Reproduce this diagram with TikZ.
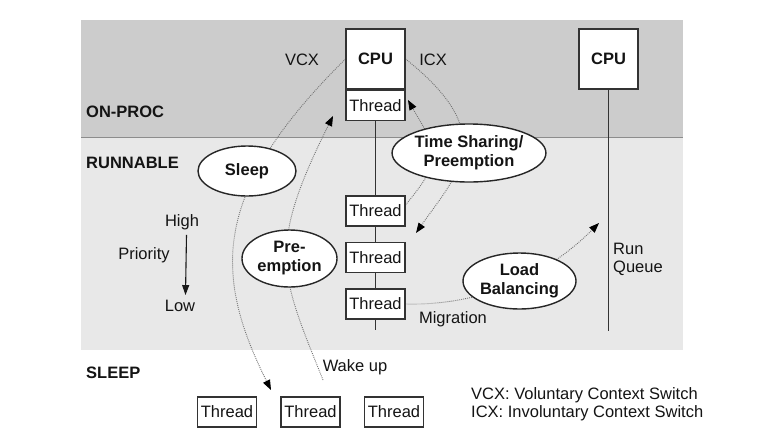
\documentclass[tikz,border=0pt]{standalone}
\usepackage{fontspec}
\setmainfont{Liberation Sans}
\usetikzlibrary{shapes.geometric,arrows.meta,calc}
\pgfdeclarelayer{bands}
\pgfdeclarelayer{links}
\pgfsetlayers{bands,links,main}

\begin{document}
\begin{tikzpicture}[x=1pt,y=-1pt,
  font=\fontsize{16.5}{18.5}\selectfont,
  every node/.style={text=black!92,inner sep=2pt},
  basebox/.style={draw=black!80,line width=1.1pt,fill=white,minimum width=59pt,inner sep=0pt},
  threadbox/.style={basebox,minimum height=30pt},
  cpubox/.style={basebox,minimum height=60pt,font=\fontsize{16.5}{18.5}\selectfont\bfseries},
  bubble/.style={ellipse,draw=black!85,line width=1.4pt,fill=white,inner sep=0pt,align=center,
    font=\fontsize{16.5}{19}\selectfont\bfseries},
  flowline/.style={draw=black!55,line width=0.9pt,dash pattern=on 0.9pt off 1.1pt},
  flowtip/.style={-{Triangle[length=10pt,width=7.5pt,color=black]}},
  rq/.style={draw=black!80,line width=1.5pt},
  stagelabel/.style={anchor=west,font=\fontsize{16.5}{18.5}\selectfont\bfseries},
]
% page and the two state bands
\begin{pgfonlayer}{bands}
  \fill[white] (0,0) rectangle (782,440);
  \fill[black!20] (81,20) rectangle (683,137);
  \fill[black!9] (81,137) rectangle (683,350);
  \draw[black!45,line width=0.8pt] (81,137) -- (683,137);
\end{pgfonlayer}
\useasboundingbox (0,0) rectangle (782,440);

% state labels
\node[stagelabel] (onproc) at (84,112) {ON-PROC};
\node[stagelabel] (runnable) at (84,163) {RUNNABLE};
\node[stagelabel] (sleeplbl) at (84,373) {SLEEP};

% first CPU with its run queue
\node[cpubox] (cpuA) at (375.5,59) {CPU};
\node[threadbox,anchor=north] (tOn) at (cpuA.south) {Thread};
\node[threadbox] (tR1) at (375.5,211) {Thread};
\node[threadbox] (tR2) at (375.5,257.5) {Thread};
\node[threadbox] (tR3) at (375.5,304) {Thread};
\coordinate (qEndA) at (375.5,330);

% second CPU with its run queue
\node[cpubox] (cpuB) at (608.5,59) {CPU};
\coordinate (qEndB) at (608.5,331);
\node[anchor=west,align=left] (rqlbl) at (611,259.5) {Run\\Queue};

% sleeping threads
\node[threadbox] (s1) at (227,412) {Thread};
\node[threadbox] (s2) at (310.5,412) {Thread};
\node[threadbox] (s3) at (394,412) {Thread};

% transitions
\node[bubble,minimum width=98pt,minimum height=50pt] (sleep) at (247,171) {Sleep};
\node[bubble,minimum width=150pt,minimum height=58pt] (ts) at (469,153) {Time Sharing/\\Preemption};
\node[bubble,minimum width=95pt,minimum height=57pt] (pre) at (289.5,258.5) {Pre-\\emption};
\node[bubble,minimum width=113pt,minimum height=56pt] (lb) at (519.5,281) {Load\\Balancing};

% plain labels
\node (vcx) at (302,60) {VCX};
\node (icx) at (433,60) {ICX};
\node (high) at (182,222) {High};
\node (prio) at (144,255) {Priority};
\node (low) at (180,306) {Low};
\node (mig) at (453,319) {Migration};
\node (wake) at (355,367) {Wake up};
\node[anchor=west,align=left,font=\fontsize{16.5}{18}\selectfont] (legend) at (469,404)
  {VCX: Voluntary Context Switch\\ICX: Involuntary Context Switch};

\draw[-{Triangle[length=10pt,width=7pt]},line width=1.1pt,black!90]
  ([xshift=4.5pt,yshift=-3pt]high.south) -- ([xshift=5.5pt,yshift=3pt]low.north);

% free ends of the transition arrows
\coordinate (sleepTip) at (271,390);
\coordinate (wakeFrom) at (323,380);
\coordinate (wakeTip) at (333,116);
\coordinate (icxTip) at (416,233);
\coordinate (shareTip) at (408,100);
\coordinate (migTip) at (599,223);

\begin{pgfonlayer}{links}
  \draw[rq] (tOn.south) -- (qEndA);
  \draw[rq] (cpuB.south) -- (qEndB);
  \draw[flowline,flowtip] (cpuA.west) .. controls (212,191) and (212.5,273) .. (sleepTip);
  \draw[flowline,flowtip] (wakeFrom) .. controls (280.3,273.3) and (266.3,249.4) .. (wakeTip);
  \draw[flowline,flowtip] (cpuA.east) .. controls (500.8,134.6) and (457.5,173.7) .. (icxTip);
  \draw[flowline,flowtip] ([yshift=6pt]tR1.east) .. controls (446.5,155.2) and (437.1,151.1) .. (shareTip);
  \draw[flowline,flowtip] (tR3.east) .. controls (485,306) and (549,273) .. (migTip);
\end{pgfonlayer}
\end{tikzpicture}
\end{document}
